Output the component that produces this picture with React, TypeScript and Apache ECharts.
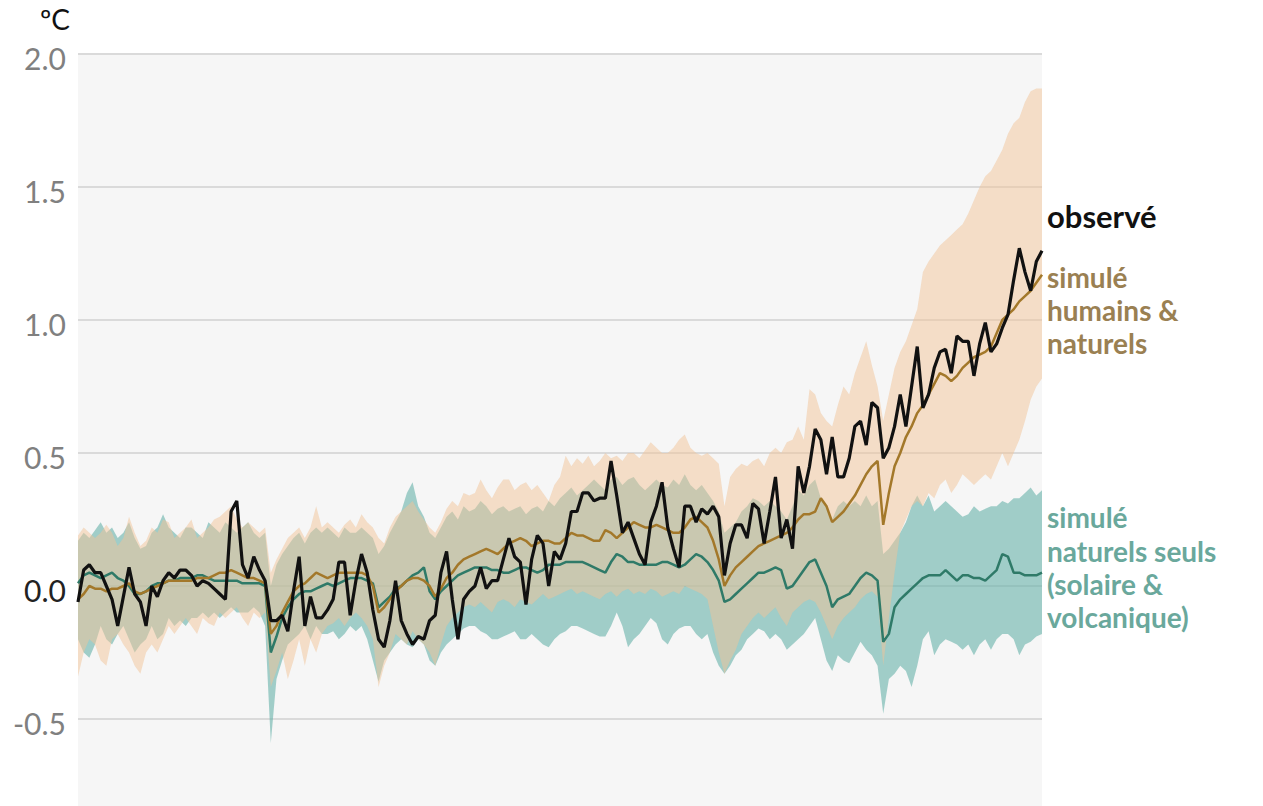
import React, { useEffect, useRef } from "react";
import * as echarts from "echarts";

const years: string[] = [];
for (let y = 1850; y <= 2020; y++) years.push(String(y));

// observed annual anomaly (°C vs 1850-1900)
const observed = [
  -0.06, 0.06, 0.08, 0.05, 0.05, 0.0, -0.05, -0.15, -0.04, 0.07,
  -0.03, -0.06, -0.15, 0.0, -0.04, 0.02, 0.05, 0.03, 0.06, 0.06,
  0.04, 0.0, 0.02, 0.01, -0.01, -0.03, -0.05, 0.28, 0.32, 0.08,
  0.03, 0.11, 0.06, 0.02, -0.13, -0.13, -0.11, -0.17, -0.02, 0.11,
  -0.15, -0.04, -0.12, -0.12, -0.09, -0.05, 0.09, 0.09, -0.11, 0.02,
  0.12, 0.05, -0.09, -0.2, -0.23, -0.13, 0.02, -0.13, -0.18, -0.22,
  -0.19, -0.2, -0.13, -0.11, 0.05, 0.13, -0.05, -0.2, -0.05, -0.02,
  0.0, 0.07, -0.01, 0.02, 0.02, 0.1, 0.18, 0.11, 0.09, -0.07,
  0.1, 0.19, 0.16, 0.0, 0.13, 0.1, 0.16, 0.28, 0.28, 0.35,
  0.35, 0.32, 0.33, 0.33, 0.47, 0.34, 0.2, 0.24, 0.18, 0.12,
  0.08, 0.24, 0.3, 0.39, 0.22, 0.14, 0.07, 0.3, 0.3, 0.24,
  0.29, 0.27, 0.3, 0.26, 0.04, 0.16, 0.23, 0.23, 0.18, 0.31,
  0.29, 0.16, 0.28, 0.41, 0.18, 0.25, 0.14, 0.45, 0.35, 0.45,
  0.59, 0.55, 0.42, 0.56, 0.41, 0.41, 0.48, 0.6, 0.62, 0.53,
  0.69, 0.67, 0.48, 0.52, 0.6, 0.72, 0.6, 0.75, 0.9, 0.67,
  0.72, 0.82, 0.88, 0.89, 0.8, 0.94, 0.92, 0.92, 0.79, 0.91,
  0.99, 0.88, 0.91, 0.97, 1.02, 1.15, 1.27, 1.18, 1.11, 1.22,
  1.26,
];

// simulated human + natural: mean, upper and lower range
const humanMean = [
  -0.05, -0.03, 0.0, -0.01, -0.01, -0.02, -0.01, -0.01, 0.0, 0.01,
  -0.02, -0.03, -0.02, -0.01, 0.0, 0.01, 0.02, 0.02, 0.02, 0.02,
  0.02, 0.03, 0.03, 0.03, 0.04, 0.05, 0.05, 0.06, 0.05, 0.04,
  0.03, 0.03, 0.02, 0.01, -0.18, -0.15, -0.1, -0.06, -0.02, 0.0,
  0.01, 0.03, 0.05, 0.04, 0.03, 0.04, 0.05, 0.05, 0.05, 0.05,
  0.05, 0.04, 0.0, -0.1, -0.08, -0.05, -0.02, 0.0, 0.02, 0.03,
  0.03, 0.02, 0.0, -0.04, -0.01, 0.03, 0.05, 0.08, 0.1, 0.11,
  0.12, 0.13, 0.14, 0.13, 0.12, 0.14, 0.16, 0.17, 0.18, 0.17,
  0.15, 0.16, 0.17, 0.17, 0.16, 0.16, 0.18, 0.2, 0.19, 0.19,
  0.18, 0.17, 0.17, 0.21, 0.2, 0.18, 0.2, 0.22, 0.24, 0.23,
  0.22, 0.22, 0.23, 0.22, 0.21, 0.2, 0.2, 0.22, 0.25, 0.26,
  0.24, 0.22, 0.17, 0.1, 0.0, 0.04, 0.07, 0.09, 0.11, 0.13,
  0.15, 0.16, 0.17, 0.18, 0.19, 0.2, 0.22, 0.25, 0.27, 0.27,
  0.28, 0.33, 0.3, 0.24, 0.26, 0.28, 0.31, 0.34, 0.38, 0.42,
  0.45, 0.47, 0.23, 0.35, 0.45, 0.5, 0.56, 0.6, 0.65, 0.68,
  0.72, 0.76, 0.8, 0.79, 0.77, 0.79, 0.82, 0.84, 0.86, 0.87,
  0.88, 0.9, 0.95, 1.0, 1.02, 1.04, 1.07, 1.09, 1.11, 1.14,
  1.17,
];

const humanUpper = [
  0.19, 0.22, 0.2, 0.18, 0.2, 0.23, 0.2, 0.15, 0.18, 0.26,
  0.2, 0.15, 0.17, 0.22, 0.2, 0.25, 0.24, 0.18, 0.2, 0.22,
  0.25, 0.18, 0.2, 0.22, 0.25, 0.26, 0.28, 0.3, 0.25, 0.22,
  0.24, 0.22, 0.2, 0.22, 0.05, 0.1, 0.14, 0.18, 0.2, 0.22,
  0.18, 0.22, 0.3, 0.22, 0.24, 0.22, 0.2, 0.23, 0.25, 0.22,
  0.27, 0.24, 0.22, 0.18, 0.16, 0.22, 0.26, 0.28, 0.3, 0.32,
  0.28, 0.25, 0.22, 0.2, 0.24, 0.29, 0.32, 0.3, 0.35, 0.34,
  0.35, 0.4, 0.36, 0.33, 0.37, 0.4, 0.4, 0.36, 0.38, 0.39,
  0.36, 0.38, 0.35, 0.32, 0.38, 0.41, 0.49, 0.45, 0.48, 0.46,
  0.49, 0.45, 0.47, 0.5, 0.48, 0.49, 0.47, 0.5, 0.5, 0.48,
  0.51, 0.54, 0.52, 0.5, 0.5, 0.52, 0.55, 0.57, 0.52, 0.5,
  0.49, 0.5, 0.48, 0.46, 0.3, 0.41, 0.44, 0.46, 0.45, 0.47,
  0.48, 0.45, 0.5, 0.52, 0.5, 0.54, 0.55, 0.6, 0.55, 0.74,
  0.72, 0.65, 0.62, 0.6, 0.68, 0.75, 0.72, 0.8, 0.86, 0.92,
  0.83, 0.75, 0.62, 0.72, 0.82, 0.88, 0.92, 0.98, 1.04, 1.18,
  1.22, 1.25, 1.28, 1.3, 1.32, 1.34, 1.36, 1.4, 1.45, 1.5,
  1.54, 1.56, 1.6, 1.64, 1.7, 1.74, 1.76, 1.82, 1.86, 1.87,
  1.87,
];

const humanLower = [
  -0.34, -0.25, -0.2, -0.22, -0.28, -0.3, -0.2, -0.18, -0.22, -0.25,
  -0.3, -0.33, -0.25, -0.22, -0.25, -0.2, -0.15, -0.18, -0.15, -0.12,
  -0.15, -0.18, -0.12, -0.14, -0.15, -0.1, -0.12, -0.1, -0.08, -0.12,
  -0.15, -0.1, -0.12, -0.1, -0.38, -0.32, -0.25, -0.35, -0.28, -0.2,
  -0.3, -0.2, -0.25, -0.18, -0.15, -0.14, -0.12, -0.15, -0.12, -0.1,
  -0.12, -0.15, -0.2, -0.38, -0.3, -0.25, -0.18, -0.2, -0.22, -0.17,
  -0.2, -0.22, -0.25, -0.3, -0.22, -0.15, -0.12, -0.1, -0.08, -0.07,
  -0.08, -0.06, -0.08, -0.1, -0.06, -0.05, -0.06, -0.08, -0.05, -0.06,
  -0.07, -0.05, -0.03, -0.05, -0.04, -0.03, -0.02, -0.01, -0.03, -0.02,
  -0.03, -0.04, -0.05, -0.03, -0.02, -0.04, -0.02, -0.01, -0.03, -0.02,
  -0.03, -0.01, -0.02, -0.04, -0.03, -0.02, -0.03, 0.0, -0.01, -0.02,
  -0.03, -0.05, -0.15, -0.25, -0.33, -0.28, -0.24, -0.18, -0.15, -0.12,
  -0.1, -0.12, -0.1, -0.08, -0.12, -0.15, -0.1, -0.08, -0.06, -0.05,
  -0.06, -0.1, -0.15, -0.2, -0.15, -0.12, -0.1, -0.08, -0.05, -0.03,
  -0.02, -0.04, -0.3, -0.12, 0.05, 0.2, 0.25, 0.3, 0.32, 0.3,
  0.35, 0.33, 0.38, 0.4, 0.35, 0.38, 0.42, 0.4, 0.38, 0.4,
  0.42, 0.4, 0.45, 0.5, 0.45, 0.5, 0.55, 0.62, 0.7, 0.75,
  0.78,
];

// simulated natural only (solar & volcanic): mean, upper and lower range
const naturalMean = [
  0.01, 0.04, 0.05, 0.04, 0.03, 0.04, 0.05, 0.03, 0.02, 0.0,
  -0.03, -0.03, -0.02, 0.0, 0.01, 0.01, 0.02, 0.02, 0.03, 0.03,
  0.03, 0.04, 0.04, 0.03, 0.02, 0.02, 0.02, 0.02, 0.02, 0.01,
  0.01, 0.01, 0.01, 0.0, -0.25, -0.19, -0.12, -0.08, -0.05, -0.03,
  -0.02, -0.02, -0.01, 0.0, 0.01, 0.0, 0.01, 0.02, 0.03, 0.03,
  0.03, 0.02, 0.01, -0.08, -0.06, -0.04, -0.01, 0.0, 0.02, 0.04,
  0.05, 0.07, -0.02, -0.05, -0.02, 0.0, 0.02, 0.04, 0.05, 0.06,
  0.07, 0.07, 0.07, 0.06, 0.06, 0.05, 0.05, 0.06, 0.07, 0.07,
  0.06, 0.05, 0.06, 0.08, 0.08, 0.08, 0.09, 0.09, 0.09, 0.09,
  0.08, 0.07, 0.06, 0.05, 0.09, 0.12, 0.11, 0.09, 0.09, 0.08,
  0.08, 0.08, 0.08, 0.09, 0.09, 0.08, 0.07, 0.08, 0.1, 0.12,
  0.11, 0.09, 0.06, 0.02, -0.06, -0.05, -0.03, -0.01, 0.01, 0.03,
  0.05, 0.05, 0.06, 0.07, 0.06, -0.01, 0.0, 0.03, 0.06, 0.09,
  0.1, 0.05, 0.0, -0.08, -0.05, -0.04, -0.03, 0.0, 0.03, 0.05,
  0.04, 0.02, -0.21, -0.18, -0.08, -0.05, -0.03, -0.01, 0.01, 0.03,
  0.04, 0.04, 0.04, 0.06, 0.04, 0.02, 0.04, 0.04, 0.03, 0.03,
  0.02, 0.04, 0.06, 0.12, 0.11, 0.05, 0.05, 0.04, 0.04, 0.04,
  0.05,
];

const naturalUpper = [
  0.17, 0.2, 0.18, 0.21, 0.24, 0.2, 0.22, 0.18, 0.2, 0.24,
  0.18, 0.14, 0.15, 0.2, 0.22, 0.27, 0.22, 0.2, 0.18, 0.22,
  0.22, 0.2, 0.18, 0.24, 0.22, 0.2, 0.24, 0.22, 0.2, 0.22,
  0.24, 0.2, 0.18, 0.2, 0.0, 0.08, 0.12, 0.15, 0.18, 0.2,
  0.16, 0.2, 0.22, 0.2, 0.22, 0.2, 0.18, 0.22, 0.2, 0.2,
  0.22, 0.2, 0.18, 0.12, 0.15, 0.2, 0.24, 0.28, 0.35, 0.39,
  0.3, 0.26, 0.2, 0.18, 0.22, 0.26, 0.28, 0.25, 0.3, 0.28,
  0.29, 0.32, 0.3, 0.27, 0.29, 0.3, 0.28, 0.29, 0.3, 0.27,
  0.29, 0.3, 0.28, 0.32, 0.3, 0.33, 0.35, 0.37, 0.34, 0.36,
  0.38, 0.4, 0.38, 0.36, 0.4, 0.41, 0.38, 0.4, 0.41, 0.38,
  0.36, 0.38, 0.4, 0.38, 0.37, 0.4, 0.38, 0.42, 0.38, 0.36,
  0.38, 0.35, 0.32, 0.28, 0.2, 0.22, 0.24, 0.28, 0.3, 0.33,
  0.32, 0.3, 0.32, 0.3, 0.28, 0.25, 0.3, 0.36, 0.34, 0.38,
  0.4, 0.33, 0.3, 0.25, 0.3, 0.32, 0.3, 0.32, 0.3, 0.34,
  0.3, 0.32, 0.12, 0.14, 0.17, 0.2, 0.24, 0.3, 0.34, 0.3,
  0.34, 0.28, 0.3, 0.32, 0.3, 0.28, 0.26, 0.27, 0.3, 0.28,
  0.29, 0.3, 0.3, 0.32, 0.31, 0.33, 0.33, 0.35, 0.37, 0.34,
  0.36,
];

const naturalLower = [
  -0.2, -0.25, -0.27, -0.22, -0.15, -0.2, -0.22, -0.18, -0.15, -0.2,
  -0.25, -0.22, -0.2, -0.15, -0.2, -0.18, -0.12, -0.15, -0.13, -0.15,
  -0.12, -0.12, -0.1, -0.12, -0.1, -0.12, -0.1, -0.08, -0.1, -0.1,
  -0.1, -0.08, -0.1, -0.15, -0.59, -0.35, -0.28, -0.22, -0.2, -0.18,
  -0.15, -0.2, -0.15, -0.18, -0.18, -0.17, -0.2, -0.18, -0.15, -0.17,
  -0.15, -0.2, -0.28, -0.36, -0.28, -0.25, -0.22, -0.2, -0.22, -0.23,
  -0.2, -0.22, -0.28, -0.3, -0.25, -0.22, -0.2, -0.18, -0.16, -0.15,
  -0.15, -0.17, -0.18, -0.2, -0.2, -0.19, -0.18, -0.17, -0.2, -0.2,
  -0.18, -0.2, -0.22, -0.23, -0.2, -0.18, -0.17, -0.15, -0.15, -0.16,
  -0.17, -0.18, -0.19, -0.19, -0.15, -0.1, -0.15, -0.23, -0.2, -0.18,
  -0.15, -0.12, -0.14, -0.2, -0.22, -0.18, -0.16, -0.15, -0.15, -0.18,
  -0.2, -0.18, -0.25, -0.3, -0.33, -0.3, -0.26, -0.24, -0.2, -0.18,
  -0.16, -0.17, -0.2, -0.18, -0.2, -0.24, -0.22, -0.2, -0.18, -0.15,
  -0.12, -0.2, -0.28, -0.32, -0.26, -0.28, -0.29, -0.25, -0.21, -0.24,
  -0.26, -0.3, -0.48, -0.35, -0.33, -0.3, -0.32, -0.38, -0.3, -0.2,
  -0.17, -0.26, -0.22, -0.2, -0.21, -0.22, -0.24, -0.22, -0.26, -0.22,
  -0.2, -0.24, -0.2, -0.18, -0.18, -0.2, -0.26, -0.22, -0.21, -0.19,
  -0.18,
];

const yTicks = { min: -1, max: 2, interval: 0.5 };

const FONT = "Lato, 'Noto Sans', sans-serif";

function bandWidth(upper: number[], lower: number[]) {
  return upper.map((u, i) => +(u - lower[i]).toFixed(4));
}

export default function App() {
  const ref = useRef<HTMLDivElement>(null);

  useEffect(() => {
    if (!ref.current) return;
    const chart = echarts.init(ref.current, undefined, { renderer: "svg" });

    const hidden = { opacity: 0, width: 0 };

    const labelText = (
      text: string,
      y: number,
      color: string,
      size: number
    ) => ({
      type: "text",
      x: 1047,
      y,
      silent: true,
      style: {
        text,
        fill: color,
        font: `bold ${size}px ${FONT}`,
        align: "left",
        verticalAlign: "middle",
      },
    });

    const brownText = "#9a8052";
    const tealText = "#6aa89c";

    chart.setOption({
      animation: false,
      grid: {
        left: 78,
        right: 221,
        top: 54,
        bottom: 18,
        show: true,
        backgroundColor: "#f6f6f6",
        borderWidth: 0,
      },
      xAxis: {
        type: "category",
        data: years,
        boundaryGap: false,
        axisLine: { show: false },
        axisTick: { show: false },
        axisLabel: { show: false },
        splitLine: { show: false },
      },
      yAxis: {
        type: "value",
        min: yTicks.min,
        max: yTicks.max,
        interval: yTicks.interval,
        axisLine: { show: false },
        axisTick: { show: false },
        splitLine: { lineStyle: { color: "#dadada", width: 2 } },
        axisLabel: {
          margin: 12,
          padding: [8, 0, 0, 0],
          fontFamily: FONT,
          fontSize: 30,
          color: "#808080",
          formatter: (v: number) => {
            if (v <= -1) return "";
            if (Math.abs(v) < 1e-9) return "{z|0.0}";
            return v.toFixed(1);
          },
          rich: {
            z: { color: "#222222", fontFamily: FONT, fontSize: 30 },
          },
        },
      },
      graphic: [
        {
          type: "text",
          x: 40,
          y: 5,
          silent: true,
          style: {
            text: "ºC",
            fill: "#111111",
            font: `28px ${FONT}`,
          },
        },
        labelText("observé", 216, "#111111", 31),
        labelText("simulé", 277, brownText, 28),
        labelText("humains &", 310, brownText, 28),
        labelText("naturels", 343, brownText, 28),
        labelText("simulé", 517, tealText, 28),
        labelText("naturels seuls", 551, tealText, 28),
        labelText("(solaire &", 584, tealText, 28),
        labelText("volcanique)", 617, tealText, 28),
      ],
      series: [
        {
          name: "natLowBase",
          type: "line",
          data: naturalLower,
          stack: "nat",
          stackStrategy: "all",
          symbol: "none",
          silent: true,
          lineStyle: hidden,
        },
        {
          name: "natBand",
          type: "line",
          data: bandWidth(naturalUpper, naturalLower),
          stack: "nat",
          stackStrategy: "all",
          symbol: "none",
          silent: true,
          lineStyle: hidden,
          areaStyle: { color: "rgba(103,178,170,0.6)", opacity: 1 },
        },
        {
          name: "humLowBase",
          type: "line",
          data: humanLower,
          stack: "hum",
          stackStrategy: "all",
          symbol: "none",
          silent: true,
          lineStyle: hidden,
        },
        {
          name: "humBand",
          type: "line",
          data: bandWidth(humanUpper, humanLower),
          stack: "hum",
          stackStrategy: "all",
          symbol: "none",
          silent: true,
          lineStyle: hidden,
          areaStyle: { color: "rgba(241,195,151,0.5)", opacity: 1 },
        },
        {
          name: "simulé naturels seuls",
          type: "line",
          data: naturalMean,
          symbol: "none",
          lineStyle: { color: "#2f7a68", width: 2.5 },
        },
        {
          name: "simulé humains & naturels",
          type: "line",
          data: humanMean,
          symbol: "none",
          lineStyle: { color: "#a3782a", width: 2.5 },
        },
        {
          name: "observé",
          type: "line",
          data: observed,
          symbol: "none",
          lineStyle: { color: "#111111", width: 3.2 },
        },
      ],
    });

    return () => chart.dispose();
  }, []);

  return (
    <div
      ref={ref}
      style={{
        position: "fixed",
        left: 0,
        top: 0,
        width: 1263,
        height: 870,
        background: "#ffffff",
      }}
    />
  );
}
